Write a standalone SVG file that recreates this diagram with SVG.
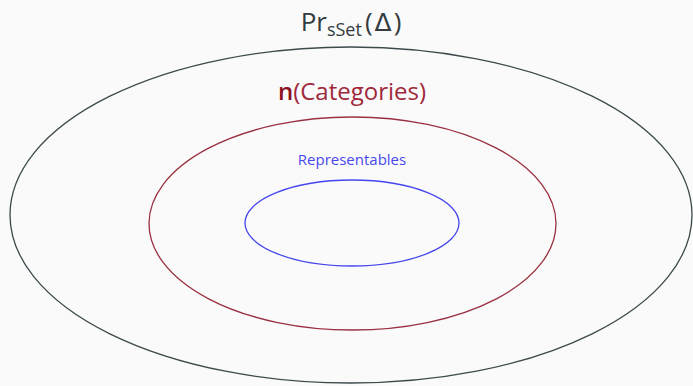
<svg xmlns="http://www.w3.org/2000/svg" width="693" height="386" viewBox="0 0 693 386">
  <style>
    .ring { fill: none; stroke-width: 1.3; }
    .lbl { font-family: "Open Sans", "Noto Sans", sans-serif; text-anchor: middle; }
  </style>
  <rect width="693" height="386" fill="#fafafa"/>
  <g id="presheaves">
    <ellipse class="ring" cx="351" cy="215" rx="341" ry="168" stroke="#3c4a4c"/>
    <text class="lbl" x="351" y="31" font-size="26" fill="#333b3e">Pr<tspan font-size="18" dy="5">sSet</tspan><tspan dy="-5" dx="3">(</tspan><tspan dx="2" font-family="DejaVu Sans, sans-serif" font-size="25">Δ</tspan><tspan dx="2">)</tspan></text>
  </g>
  <g id="categories">
    <ellipse class="ring" cx="352.5" cy="223.5" rx="203.5" ry="106.5" stroke="#9a3040"/>
    <text class="lbl" x="352" y="100" font-size="24" fill="#a0283a"><tspan font-weight="600" fill="#8a1022">n</tspan>(Categories)</text>
  </g>
  <g id="representables">
    <ellipse class="ring" cx="352" cy="223" rx="107" ry="43" stroke="#4646ee"/>
    <text class="lbl" x="352" y="165" font-size="15" fill="#4848f0">Representables</text>
  </g>
  <g id="connectors"/>
</svg>
